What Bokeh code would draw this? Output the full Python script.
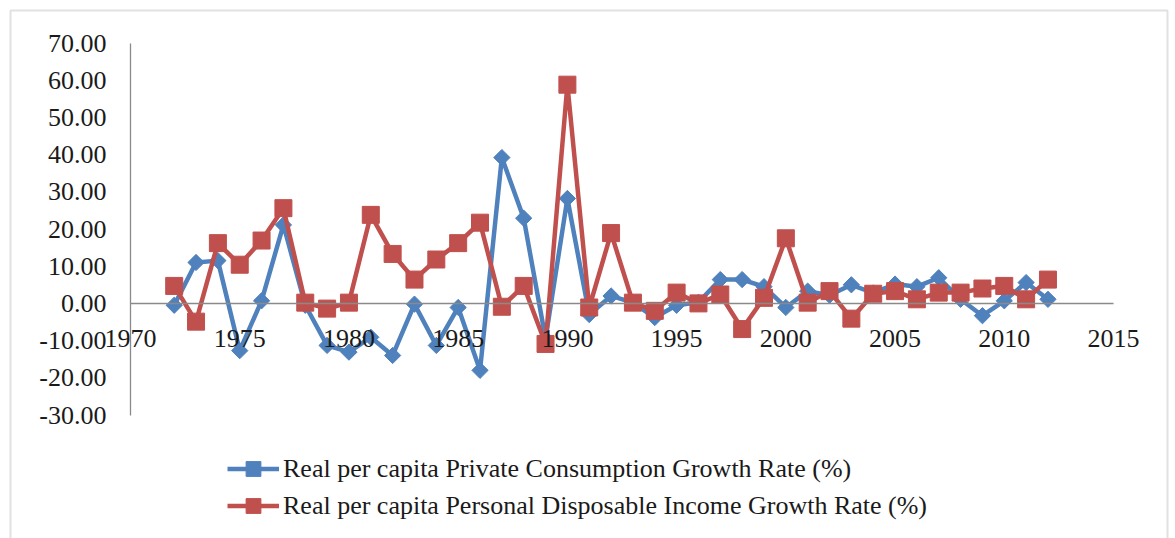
import math
from bokeh.plotting import figure
from bokeh.models import (Range1d, FixedTicker, NumeralTickFormatter, Legend, LegendItem,
                          ColumnDataSource, BoxAnnotation)
from bokeh.embed import file_html
from bokeh.resources import INLINE

years = list(range(1972, 2013))
consumption = [-0.5, 11.0, 11.5, -12.7, 0.7, 21.1, -0.5, -11.3, -13.1, -9.1,
               -14.0, -0.2, -11.3, -1.1, -18.0, 39.2, 22.9, -9.5, 28.2, -3.0,
               2.0, 0.2, -3.8, -0.5, 0.3, 6.4, 6.4, 4.5, -1.1, 3.3,
               2.2, 5.0, 2.8, 5.2, 4.5, 6.9, 1.1, -3.3, 0.7, 5.6, 1.1]
income = [4.7, -4.9, 16.2, 10.4, 16.9, 25.6, 0.2, -1.4, 0.2, 23.8,
          13.3, 6.4, 11.8, 16.2, 21.7, -0.9, 4.7, -10.9, 58.8, -1.1,
          18.9, 0.2, -2.0, 2.9, 0.0, 2.4, -6.9, 1.5, 17.5, 0.2,
          3.3, -4.1, 2.6, 3.3, 1.1, 2.9, 2.9, 4.0, 4.7, 1.1, 6.4]
x_ticks = [1970, 1975, 1980, 1985, 1990, 1995, 2000, 2005, 2010, 2015]
y_ticks = [-30, -20, -10, 0, 10, 20, 30, 40, 50, 60, 70]
series_names = ["Real per capita Private Consumption Growth Rate (%)",
                "Real per capita Personal Disposable Income Growth Rate (%)"]

BLUE = "#4F81BD"
RED = "#C0504D"
FONT = "Liberation Serif"
W, H = 1175, 538
# pixel layout of the plotting area (axis from 1970..2015 and -30..70)
PX_L, PX_R, PX_T, PX_B = 130, 1113, 42.5, 414.5
xs = (PX_R - PX_L) / (x_ticks[-1] - x_ticks[0])
ys = (PX_B - PX_T) / (y_ticks[-1] - y_ticks[0])
x_range = Range1d(x_ticks[0] - PX_L / xs, x_ticks[-1] + (W - PX_R) / xs)
y_range = Range1d(y_ticks[0] - (H - PX_B) / ys, y_ticks[-1] + PX_T / ys)

src = ColumnDataSource(dict(year=years, cons=consumption, inc=income))

p = figure(width=W, height=H, output_backend="svg", toolbar_location=None,
           x_range=x_range, y_range=y_range, min_border=0)
p.outline_line_color = None
p.xgrid.visible = False
p.ygrid.visible = False
p.background_fill_color = "white"
p.border_fill_color = "white"

for ax in (p.xaxis[0], p.yaxis[0]):
    ax.axis_line_color = "#8a8a8a"
    ax.axis_line_width = 1.3
    ax.major_tick_line_color = None
    ax.minor_tick_line_color = None
    ax.major_tick_out = 0
    ax.major_tick_in = 0
    ax.major_label_text_font = FONT
    ax.major_label_text_font_size = "26px"
    ax.major_label_text_color = "#1a1a1a"

p.xaxis.ticker = FixedTicker(ticks=x_ticks)
p.xaxis.fixed_location = 0
p.xaxis.bounds = (x_ticks[0], x_ticks[-1])
p.xaxis.major_label_standoff = 27
p.yaxis.ticker = FixedTicker(ticks=y_ticks)
p.yaxis.formatter = NumeralTickFormatter(format="0.00")
p.yaxis.fixed_location = x_ticks[0]
p.yaxis.bounds = (y_ticks[0], y_ticks[-1])
p.yaxis.major_label_standoff = 24

l1 = p.line("year", "cons", source=src, line_color=BLUE, line_width=4.5)
m1 = p.scatter("year", "cons", source=src, marker="square", size=11.5, angle=math.pi / 4,
               fill_color=BLUE, line_color=BLUE)
l2 = p.line("year", "inc", source=src, line_color=RED, line_width=4.5)
m2 = p.scatter("year", "inc", source=src, marker="square", size=17,
               fill_color=RED, line_color=RED)

legend = Legend(items=[LegendItem(label=series_names[0], renderers=[l1, m1]),
                       LegendItem(label=series_names[1], renderers=[l2, m2])],
                location=(227, 14))
legend.label_text_font = FONT
legend.label_text_font_size = "26px"
legend.label_text_color = "#1a1a1a"
legend.glyph_width = 52
legend.glyph_height = 37
legend.label_standoff = 4
legend.spacing = 0
legend.padding = 0
legend.margin = 0
legend.border_line_alpha = 0
legend.background_fill_alpha = 0
p.add_layout(legend)

frame_box = BoxAnnotation(left=10, right=1167, top=10, bottom=620,
                          left_units="canvas", right_units="canvas",
                          top_units="canvas", bottom_units="canvas",
                          fill_alpha=0, line_color="#9a9a9a", line_width=2)
p.add_layout(frame_box)

open("out.html", "w").write(file_html(p, INLINE))
